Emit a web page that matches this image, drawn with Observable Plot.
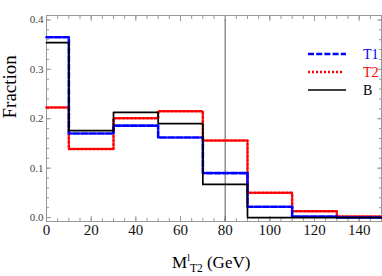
<!DOCTYPE html>
<html><head><meta charset="utf-8">
<script src="https://cdn.jsdelivr.net/npm/d3@7"></script>
<script src="https://cdn.jsdelivr.net/npm/@observablehq/plot@0.6"></script>
<style>
body{margin:0;background:#fff}
#wrap{position:relative;width:382px;height:276px;overflow:hidden}
#wrap svg{display:block}
#overlay{position:absolute;left:0;top:0;pointer-events:none}
</style>
</head><body><div id="wrap"></div>
<script>
// bin edges (GeV) and fractions per bin
const binEdges = [0, 10, 30, 50, 70, 90, 110, 130, 150];
const t1Values = [0.365, 0.170, 0.186, 0.162, 0.090, 0.022, 0.002, 0.000];
const t2Values = [0.223, 0.139, 0.201, 0.215, 0.156, 0.050, 0.013, 0.002];
const bValues  = [0.354, 0.176, 0.213, 0.190, 0.067, 0.000, 0.000, 0.000];
const seriesNames = ["T1", "T2", "B"];
const seriesColors = ["#0000ff", "#ff0000", "#000000"];
const cutValue = 80;
const xTickLabels = [0, 20, 40, 60, 80, 100, 120, 140];
const yTickLabels = [0.0, 0.1, 0.2, 0.3, 0.4];
const xMinorTicks = d3.range(0, 151, 5);
const yMinorTicks = d3.range(0, 21).map(i => i * 0.02);
const xDomain = [0, 150];
const yDomain = [-0.008, 0.409];

function steps(values) {
  const pts = values.map((v, i) => ({x: binEdges[i], y: v}));
  pts.push({x: binEdges[binEdges.length - 1], y: values[values.length - 1]});
  return pts;
}
const t1 = steps(t1Values), t2 = steps(t2Values), bb = steps(bValues);

const serif = "Liberation Serif, Times New Roman, serif";
const axisGray = "#999";
const dashes = ["6,2.2", "2,2", null];
const widths = [2.6, 2.5, 1.7];

const chart = Plot.plot({
  width: 382, height: 276,
  marginLeft: 46, marginRight: 1, marginTop: 15, marginBottom: 55,
  x: {domain: xDomain},
  y: {domain: yDomain},
  style: {fontFamily: serif, background: "#fff"},
  marks: [
    Plot.frame({stroke: axisGray, strokeWidth: 1}),
    // minor ticks (inward)
    Plot.axisX(xMinorTicks, {anchor: "bottom", tickSize: -3, tickFormat: () => "", stroke: axisGray, label: null}),
    Plot.axisX(xMinorTicks, {anchor: "top", tickSize: -3, tickFormat: () => "", stroke: axisGray, label: null}),
    Plot.axisY(yMinorTicks, {anchor: "left", tickSize: -3, tickFormat: () => "", stroke: axisGray, label: null}),
    Plot.axisY(yMinorTicks, {anchor: "right", tickSize: -3, tickFormat: () => "", stroke: axisGray, label: null}),
    // major ticks (inward)
    Plot.axisX(xTickLabels, {anchor: "bottom", tickSize: -5, tickFormat: () => "", stroke: axisGray, label: null}),
    Plot.axisX(xTickLabels, {anchor: "top", tickSize: -5, tickFormat: () => "", stroke: axisGray, label: null}),
    Plot.axisY(yTickLabels, {anchor: "left", tickSize: -5, tickFormat: () => "", stroke: axisGray, label: null}),
    Plot.axisY(yTickLabels, {anchor: "right", tickSize: -5, tickFormat: () => "", stroke: axisGray, label: null}),
    // tick labels
    Plot.axisX(xTickLabels, {anchor: "bottom", tickSize: 0, tickPadding: 3, fontSize: 15, fill: "#111", label: null, tickFormat: d => String(d)}),
    Plot.axisY(yTickLabels, {anchor: "left", tickSize: 0, tickPadding: 3, fontSize: 11, fill: "#444", label: null, tickFormat: d3.format(".1f")}),
    Plot.text(["Fraction"], {frameAnchor: "left", rotate: -90, dx: -37, fontSize: 19, fill: "#000"}),
    // cut line
    Plot.ruleX([cutValue], {y1: yDomain[0], y2: yTickLabels[yTickLabels.length - 1], stroke: "#555", strokeWidth: 1}),
    // histograms
    Plot.line(t2, {x: "x", y: "y", curve: "step-after", stroke: seriesColors[1], strokeWidth: widths[1], strokeDasharray: dashes[1]}),
    Plot.line(t1, {x: "x", y: "y", curve: "step-after", stroke: seriesColors[0], strokeWidth: widths[0], strokeDasharray: dashes[0]}),
    Plot.line(bb, {x: "x", y: "y", curve: "step-after", stroke: seriesColors[2], strokeWidth: widths[2]})
  ]
});
const wrap = document.getElementById("wrap");
wrap.appendChild(chart);

// legend and x-axis title overlay
const ns = "http://www.w3.org/2000/svg";
const ov = document.createElementNS(ns, "svg");
ov.setAttribute("id", "overlay");
ov.setAttribute("width", 382); ov.setAttribute("height", 276);
const ends = [346, 342, 346];
seriesNames.forEach((name, i) => {
  const y = 54 + i * 18;
  const ln = document.createElementNS(ns, "line");
  ln.setAttribute("x1", 308); ln.setAttribute("x2", ends[i]);
  ln.setAttribute("y1", y); ln.setAttribute("y2", y);
  ln.setAttribute("stroke", seriesColors[i]);
  ln.setAttribute("stroke-width", widths[i]);
  if (dashes[i]) ln.setAttribute("stroke-dasharray", dashes[i]);
  ov.appendChild(ln);
  const t = document.createElementNS(ns, "text");
  t.setAttribute("x", 363); t.setAttribute("y", y + 5);
  t.setAttribute("font-family", serif); t.setAttribute("font-size", 14);
  t.setAttribute("fill", seriesColors[i]);
  t.textContent = name;
  ov.appendChild(t);
});
const xt = document.createElementNS(ns, "text");
xt.setAttribute("x", 172); xt.setAttribute("y", 268);
xt.setAttribute("font-family", serif); xt.setAttribute("font-size", 17);
xt.setAttribute("fill", "#000");
const parts = [
  {t: "M"},
  {t: "l", size: 10, dy: -7},
  {t: "T2", size: 11.5, dy: 11, dx: 0},
  {t: " (GeV)", dy: -4}
];
parts.forEach(p => {
  const s = document.createElementNS(ns, "tspan");
  s.textContent = p.t;
  if (p.size) s.setAttribute("font-size", p.size);
  if (p.dy) s.setAttribute("dy", p.dy);
  if (p.dx) s.setAttribute("dx", p.dx);
  xt.appendChild(s);
});
ov.appendChild(xt);
wrap.appendChild(ov);
</script>
</body></html>
